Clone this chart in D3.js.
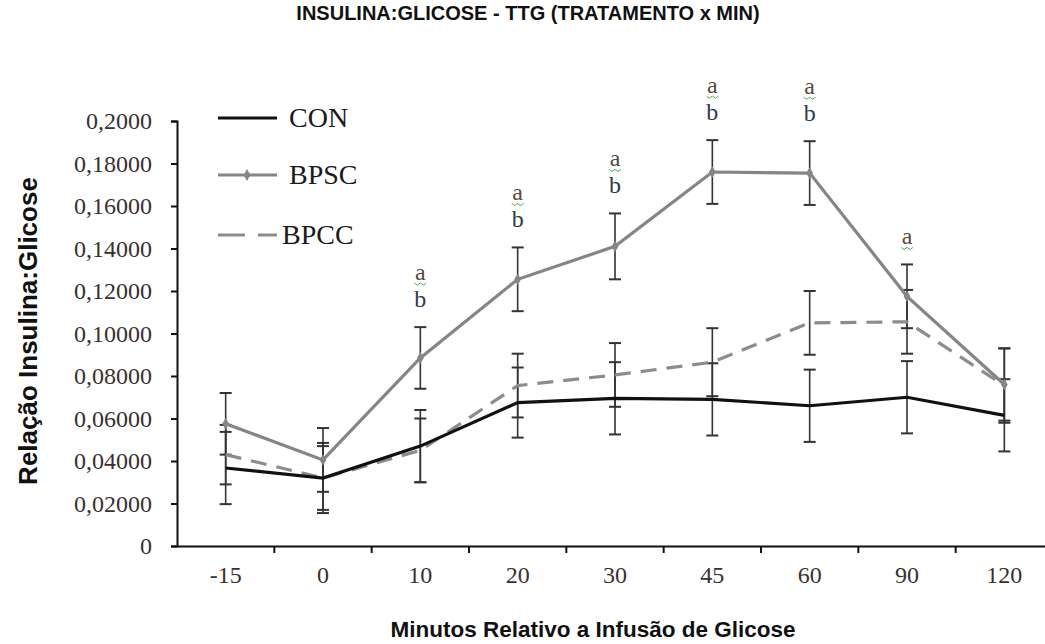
<!DOCTYPE html>
<html>
<head>
<meta charset="utf-8">
<script src="https://cdn.jsdelivr.net/npm/d3@7"></script>
<style>
body { margin: 0; background: #fff; }
</style>
</head>
<body>
<script>
var width = 1045;
var height = 644;

// data
var minutes = ["-15", "0", "10", "20", "30", "45", "60", "90", "120"];
var conValues = [0.0367, 0.0320, 0.0470, 0.0675, 0.0695, 0.0690, 0.0660, 0.0700, 0.0615];
var conErrors = [0.0170, 0.0165, 0.0170, 0.0165, 0.0170, 0.0170, 0.0170, 0.0170, 0.0170];
var bpscValues = [0.0575, 0.0405, 0.0885, 0.1255, 0.1410, 0.1760, 0.1755, 0.1175, 0.0760];
var bpscErrors = [0.0145, 0.0150, 0.0145, 0.0150, 0.0155, 0.0150, 0.0150, 0.0150, 0.0170];
var bpccValues = [0.0430, 0.0320, 0.0450, 0.0755, 0.0805, 0.0865, 0.1050, 0.1055, 0.0755];
var bpccErrors = [0.0140, 0.0150, 0.0150, 0.0150, 0.0150, 0.0160, 0.0150, 0.0150, 0.0175];
var annotations = ["", "", "a|b", "a|b", "a|b", "a|b", "a|b", "a", ""];
var yTicks = [0, 0.02, 0.04, 0.06, 0.08, 0.10, 0.12, 0.14, 0.16, 0.18, 0.20];
var yTickLabels = ["0", "0,02000", "0,04000", "0,06000", "0,08000", "0,10000",
    "0,12000", "0,14000", "0,16000", "0,18000", "0,2000"];

var series = [
    {name: "CON", values: conValues, errors: conErrors, color: "#111", dash: null, marker: false},
    {name: "BPSC", values: bpscValues, errors: bpscErrors, color: "#858585", dash: null, marker: true},
    {name: "BPCC", values: bpccValues, errors: bpccErrors, color: "#8c8c8c", dash: "16,10", marker: false}
];

var svg = d3.select("body")
    .append("svg")
    .attr("width", width)
    .attr("height", height);

var x = d3.scaleBand()
    .domain(minutes)
    .range([177, 1053])
    .padding(0);

var y = d3.scaleLinear()
    .domain([0, 0.2])
    .range([546, 121]);

var serif = "'Liberation Serif', 'Times New Roman', serif";
var sans = "'Liberation Sans', Arial, sans-serif";

// title
svg.append("text")
    .attr("x", 528)
    .attr("y", 20)
    .attr("text-anchor", "middle")
    .style("font-family", sans)
    .style("font-weight", "bold")
    .style("font-size", "20px")
    .style("fill", "#111")
    .text("INSULINA:GLICOSE - TTG (TRATAMENTO x MIN)");

// y axis
var yAxis = d3.axisLeft(y)
    .tickValues(yTicks)
    .tickFormat(function(d, i) { return yTickLabels[i]; })
    .tickSize(6)
    .tickPadding(19);

var gy = svg.append("g")
    .attr("transform", "translate(" + x.range()[0] + ",0)")
    .call(yAxis);
gy.select(".domain").attr("stroke", "#111").attr("stroke-width", 2);
gy.selectAll(".tick line").attr("stroke", "#111").attr("stroke-width", 2);
gy.selectAll(".tick text")
    .style("font-family", serif)
    .style("font-size", "24px")
    .style("fill", "#3a3030");

// x axis
var xAxis = d3.axisBottom(x)
    .tickSize(0)
    .tickPadding(20);

var gx = svg.append("g")
    .attr("transform", "translate(0," + y(0) + ")")
    .call(xAxis);
gx.select(".domain").attr("stroke", "#111").attr("stroke-width", 2);
gx.selectAll(".tick text")
    .style("font-family", serif)
    .style("font-size", "24px")
    .style("fill", "#3a3030");

// tick marks between categories
gx.selectAll(".bound")
    .data(minutes.slice(1))
    .enter().append("line")
    .attr("class", "bound")
    .attr("x1", function(d) { return x(d); })
    .attr("x2", function(d) { return x(d); })
    .attr("y1", 0)
    .attr("y2", 7)
    .attr("stroke", "#111")
    .attr("stroke-width", 2);

// axis titles
svg.append("text")
    .attr("transform", "translate(37,331) rotate(-90)")
    .attr("text-anchor", "middle")
    .style("font-family", sans)
    .style("font-weight", "bold")
    .style("font-size", "26px")
    .style("fill", "#111")
    .text("Relação Insulina:Glicose");

svg.append("text")
    .attr("x", 593)
    .attr("y", 637)
    .attr("text-anchor", "middle")
    .style("font-family", sans)
    .style("font-weight", "bold")
    .style("font-size", "22.5px")
    .style("fill", "#111")
    .text("Minutos Relativo a Infusão de Glicose");

var cx = function(i) { return x(minutes[i]) + x.bandwidth() / 2; };

// error bars
series.forEach(function(s) {
    var g = svg.append("g").attr("class", "err");
    s.values.forEach(function(v, i) {
        var top = y(v + s.errors[i]);
        var bot = y(v - s.errors[i]);
        var xc = cx(i);
        g.append("line")
            .attr("x1", xc).attr("x2", xc)
            .attr("y1", top).attr("y2", bot)
            .attr("stroke", "#333").attr("stroke-width", 1.6);
        [top, bot].forEach(function(yy) {
            g.append("line")
                .attr("x1", xc - 6).attr("x2", xc + 6)
                .attr("y1", yy).attr("y2", yy)
                .attr("stroke", "#333").attr("stroke-width", 2);
        });
    });
});

// lines
var line = d3.line()
    .x(function(d, i) { return cx(i); })
    .y(function(d) { return y(d); });

[series[2], series[0], series[1]].forEach(function(s) {
    svg.append("path")
        .datum(s.values)
        .attr("d", line)
        .attr("fill", "none")
        .attr("stroke", s.color)
        .attr("stroke-width", 3.2)
        .attr("stroke-dasharray", s.dash);
    if (s.marker) {
        svg.selectAll(null)
            .data(s.values)
            .enter().append("path")
            .attr("d", d3.symbol().type(d3.symbolDiamond).size(40))
            .attr("transform", function(d, i) { return "translate(" + cx(i) + "," + y(d) + ")"; })
            .attr("fill", s.color);
    }
});

// significance letters
annotations.forEach(function(a, i) {
    if (!a) return;
    var letters = a.split("|");
    var top = y(bpscValues[i] + bpscErrors[i]);
    var base = top - 20 - (letters.length - 1) * 27;
    letters.forEach(function(l, k) {
        var yy = base + k * 27;
        svg.append("text")
            .attr("x", cx(i))
            .attr("y", yy)
            .attr("text-anchor", "middle")
            .style("font-family", serif)
            .style("font-size", "24px")
            .style("fill", k === 0 ? "#5a4a3a" : "#2f3a48")
            .text(l);
        if (k === 0) {
            var wave = "";
            for (var j = 0; j <= 4; j++) {
                wave += (j === 0 ? "M" : "L") + (cx(i) - 6 + j * 3) + "," + (yy + 3 + (j % 2) * 2);
            }
            svg.append("path")
                .attr("d", wave)
                .attr("fill", "none")
                .attr("stroke", "#4caf50")
                .attr("stroke-width", 1);
        }
    });
});

// legend
var legend = svg.append("g").attr("class", "legend");
var legendY = [118, 175, 235];
series.forEach(function(s, i) {
    legend.append("line")
        .attr("x1", 218).attr("x2", 277)
        .attr("y1", legendY[i]).attr("y2", legendY[i])
        .attr("stroke", s.color)
        .attr("stroke-width", 3.2)
        .attr("stroke-dasharray", s.dash ? "27,13" : null);
    if (s.marker) {
        legend.append("path")
            .attr("d", d3.symbol().type(d3.symbolDiamond).size(40))
            .attr("transform", "translate(247," + legendY[i] + ")")
            .attr("fill", s.color);
    }
    legend.append("text")
        .attr("x", s.dash ? 282 : 289)
        .attr("y", legendY[i] + 9)
        .style("font-family", serif)
        .style("font-size", "28px")
        .style("fill", "#1a1a1a")
        .text(s.name);
});
</script>
</body>
</html>
